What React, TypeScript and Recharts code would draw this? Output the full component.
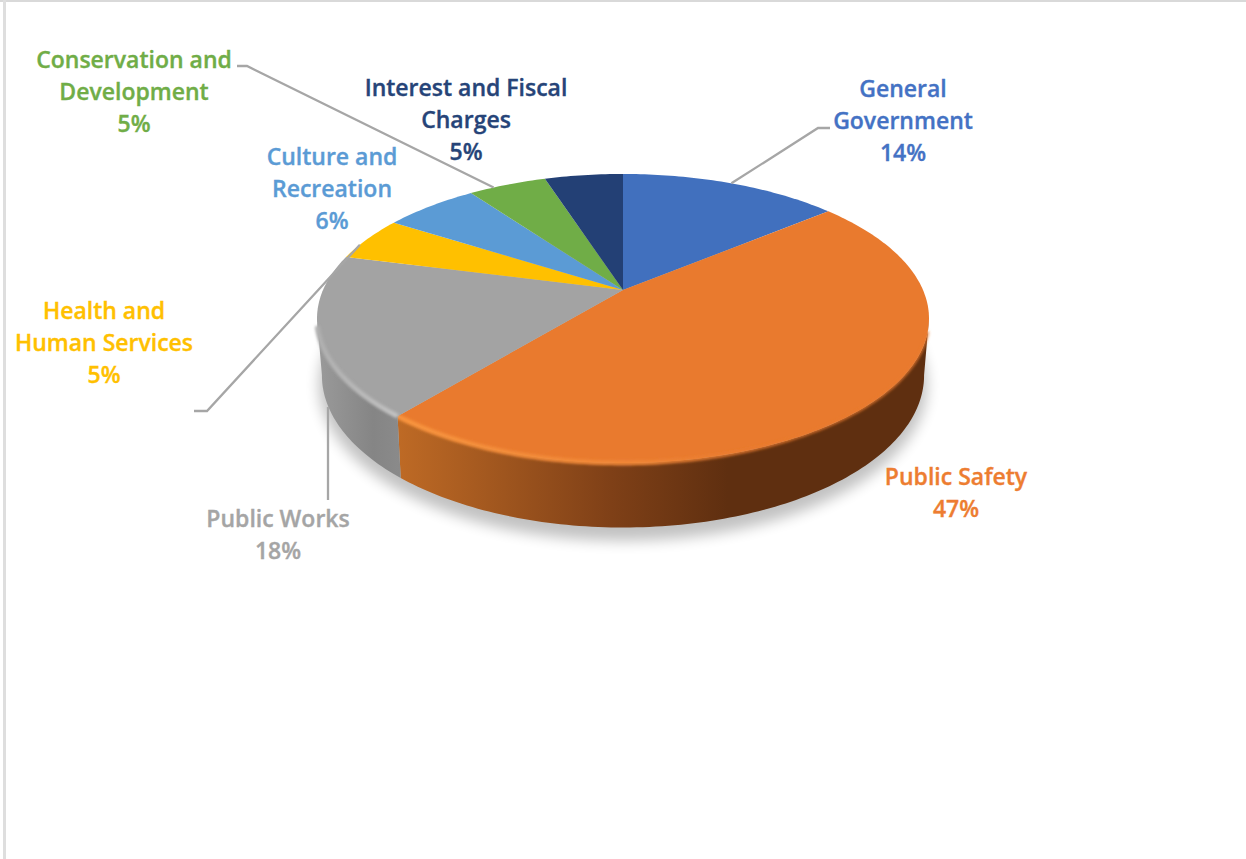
import React from 'react';
import { PieChart, Pie } from 'recharts';

const categories = [
    'General Government',
    'Public Safety',
    'Public Works',
    'Health and Human Services',
    'Culture and Recreation',
    'Conservation and Development',
    'Interest and Fiscal Charges',
];
const shares = [14, 47, 18, 5, 6, 5, 5];
const faceColors = ['#4170BE', '#E97A2E', '#A3A3A3', '#FFC000', '#5B9BD5', '#70AD47', '#234075'];
const textColors = ['#4472C4', '#ED7D31', '#A5A5A5', '#FFC000', '#5B9BD5', '#70AD47', '#264478'];
const wrappedNames = [
    ['General', 'Government'],
    ['Public Safety'],
    ['Public Works'],
    ['Health and', 'Human Services'],
    ['Culture and', 'Recreation'],
    ['Conservation and', 'Development'],
    ['Interest and Fiscal', 'Charges'],
];

const data = categories.map((name, i) => ({ name, value: shares[i], fill: faceColors[i] }));

// label block centre + first line centre, and the leader's bend points.
// rimShift moves the leader's start along the rim so it stays outside the disc.
const labelSpots: any[] = [
    { x: 903, y: 88.5, leader: [[818, 128], [830, 128]], rimShift: 0 },
    { x: 956, y: 476.5 },
    { x: 278, y: 518.5, leader: [[328, 407], [328, 500]], detached: true },
    { x: 104, y: 310.5, leader: [[207, 411], [194, 411]], rimShift: -3 },
    { x: 332, y: 156.5 },
    { x: 134, y: 59.5, leader: [[247, 66], [237, 66]], rimShift: -3.3 },
    { x: 466, y: 87.5 },
];

const LINE_GAP = 32.2;
const CX = 623;
const CY = 290;

// top disc and bottom disc of the tilted pie, as perspective projections of a circle
const TOP = { w: 300, h: 138.9, k: 0.197, dy: 0 };
const BOTTOM = { w: 295, h: 146, k: 0.2, dy: 55 };
// clockwise degrees from 12 o'clock where the side wall is visible
const WALL_FROM = 101.4;
const WALL_TO = 258.6;

const project = (deg: number, cx: number, cy: number, disc = TOP) => {
    const a = (deg * Math.PI) / 180;
    const u = Math.sin(a);
    const v = Math.cos(a);
    const d = 1 + disc.k * v;
    return [cx + (disc.w * u) / d, cy + disc.dy - (disc.h * v) / d];
};

const arcPoints = (from: number, to: number, cx: number, cy: number, disc = TOP) => {
    const pts: number[][] = [];
    const steps = Math.max(2, Math.ceil(to - from));
    for (let i = 0; i <= steps; i++) {
        pts.push(project(from + ((to - from) * i) / steps, cx, cy, disc));
    }
    return pts;
};

const toPath = (pts: number[][]) =>
    pts.map((p, i) => `${i ? 'L' : 'M'}${p[0].toFixed(2)} ${p[1].toFixed(2)}`).join(' ');

// Draws one slice: side wall, flat top, then the soft bevel along the rim
const SliceShape = (props: any) => {
    const { cx, cy, startAngle, endAngle, fill, name } = props;
    const from = 90 - startAngle;
    const to = 90 - endAngle;
    const top = toPath(arcPoints(from, to, cx, cy));
    const wFrom = Math.max(from, WALL_FROM);
    const wTo = Math.min(to, WALL_TO);
    const hasWall = wTo > wFrom;
    const isOrange = name === 'Public Safety';
    // keep the blurred rim away from the silhouette's tips
    const rim = hasWall ? toPath(arcPoints(Math.max(wFrom, WALL_FROM + 5), Math.min(wTo, WALL_TO - 3), cx, cy)) : '';

    return (
        <g>
            {hasWall && (
                <path
                    d={`${toPath(arcPoints(wFrom, wTo, cx, cy))} L${arcPoints(wFrom, wTo, cx, cy, BOTTOM)
                        .reverse()
                        .map((p) => p.join(' '))
                        .join(' L')} Z`}
                    fill={isOrange ? 'url(#wallOrange)' : 'url(#wallGray)'}
                />
            )}
            <path d={`M${cx} ${cy} ${top.replace('M', 'L')} Z`} fill={fill} />
            {hasWall && (
                <>
                    <path d={rim} fill="none" stroke={fill} strokeWidth={2.5} filter="url(#softEdge)" />
                    <path
                        d={rim}
                        fill="none"
                        stroke={isOrange ? 'url(#rimOrange)' : 'url(#rimGray)'}
                        strokeWidth={4.5}
                        filter="url(#softEdge)"
                    />
                </>
            )}
        </g>
    );
};

const SliceLabel = (props: any) => {
    const { cx, cy, midAngle, index, value } = props;
    const spot = labelSpots[index];
    const color = textColors[index];
    const lines = [...wrappedNames[index], `${value}%`];
    let leader: number[][] | null = null;
    if (spot.leader) {
        leader = spot.detached ? spot.leader : [project(90 - midAngle + spot.rimShift, cx, cy), ...spot.leader];
    }
    return (
        <g>
            {leader && <path d={toPath(leader)} fill="none" stroke="#A6A6A6" strokeWidth={2.3} />}
            <text
                textAnchor="middle"
                fill={color}
                stroke={color}
                strokeWidth={0.35}
                fontFamily="'Open Sans', sans-serif"
                fontWeight={600}
                fontSize={23}
            >
                {lines.map((line, i) => (
                    <tspan key={line} x={spot.x} y={spot.y + i * LINE_GAP} dy="0.35em">
                        {line}
                    </tspan>
                ))}
            </text>
        </g>
    );
};

const App = () => (
    <div style={{ position: 'absolute', left: 0, top: 0, width: 1246, height: 859, background: '#fff' }}>
        {/* thin frame along the top and left edge */}
        <div style={{ position: 'absolute', left: 0, top: 0, width: 1246, height: 2, background: '#D9D9D9' }} />
        <div style={{ position: 'absolute', left: 3, top: 0, width: 3, height: 859, background: '#DEDEDE' }} />
        <div style={{ position: 'absolute', left: 0, top: 0 }}>
            <PieChart width={1246} height={859} margin={{ top: 0, right: 0, bottom: 0, left: 0 }}>
                <defs>
                    <linearGradient id="wallOrange" gradientUnits="userSpaceOnUse" x1={398} y1={0} x2={930} y2={0}>
                        <stop offset="0" stopColor="#BE6A25" />
                        <stop offset="0.4" stopColor="#7F4017" />
                        <stop offset="0.62" stopColor="#5F2F10" />
                        <stop offset="1" stopColor="#5F2F10" />
                    </linearGradient>
                    <linearGradient id="wallGray" gradientUnits="userSpaceOnUse" x1={318} y1={0} x2={410} y2={0}>
                        <stop offset="0" stopColor="#9A9A9A" />
                        <stop offset="0.6" stopColor="#858585" />
                        <stop offset="1" stopColor="#8C8C8C" />
                    </linearGradient>
                    <linearGradient id="rimOrange" gradientUnits="userSpaceOnUse" x1={398} y1={0} x2={800} y2={0}>
                        <stop offset="0" stopColor="#F9963F" stopOpacity={1} />
                        <stop offset="0.6" stopColor="#F38C3A" stopOpacity={0.75} />
                        <stop offset="1" stopColor="#E97A2E" stopOpacity={0} />
                    </linearGradient>
                    <linearGradient id="rimGray" gradientUnits="userSpaceOnUse" x1={318} y1={0} x2={410} y2={0}>
                        <stop offset="0" stopColor="#B0B0B0" />
                        <stop offset="1" stopColor="#C6C6C6" />
                    </linearGradient>
                    <filter id="softEdge" x="-20%" y="-20%" width="140%" height="140%">
                        <feGaussianBlur stdDeviation={1.6} />
                    </filter>
                    <filter id="dropShadow" x="-20%" y="-20%" width="140%" height="140%">
                        <feGaussianBlur stdDeviation={7} />
                    </filter>
                </defs>
                <ellipse cx={623} cy={385} rx={304} ry={156} fill="#000" opacity={0.24} filter="url(#dropShadow)" />
                <Pie
                    data={data}
                    dataKey="value"
                    nameKey="name"
                    cx={CX}
                    cy={CY}
                    outerRadius={300}
                    startAngle={90}
                    endAngle={-270}
                    stroke="none"
                    shape={SliceShape}
                    label={SliceLabel}
                    labelLine={false}
                    isAnimationActive={false}
                />
            </PieChart>
        </div>
    </div>
);

export default App;
